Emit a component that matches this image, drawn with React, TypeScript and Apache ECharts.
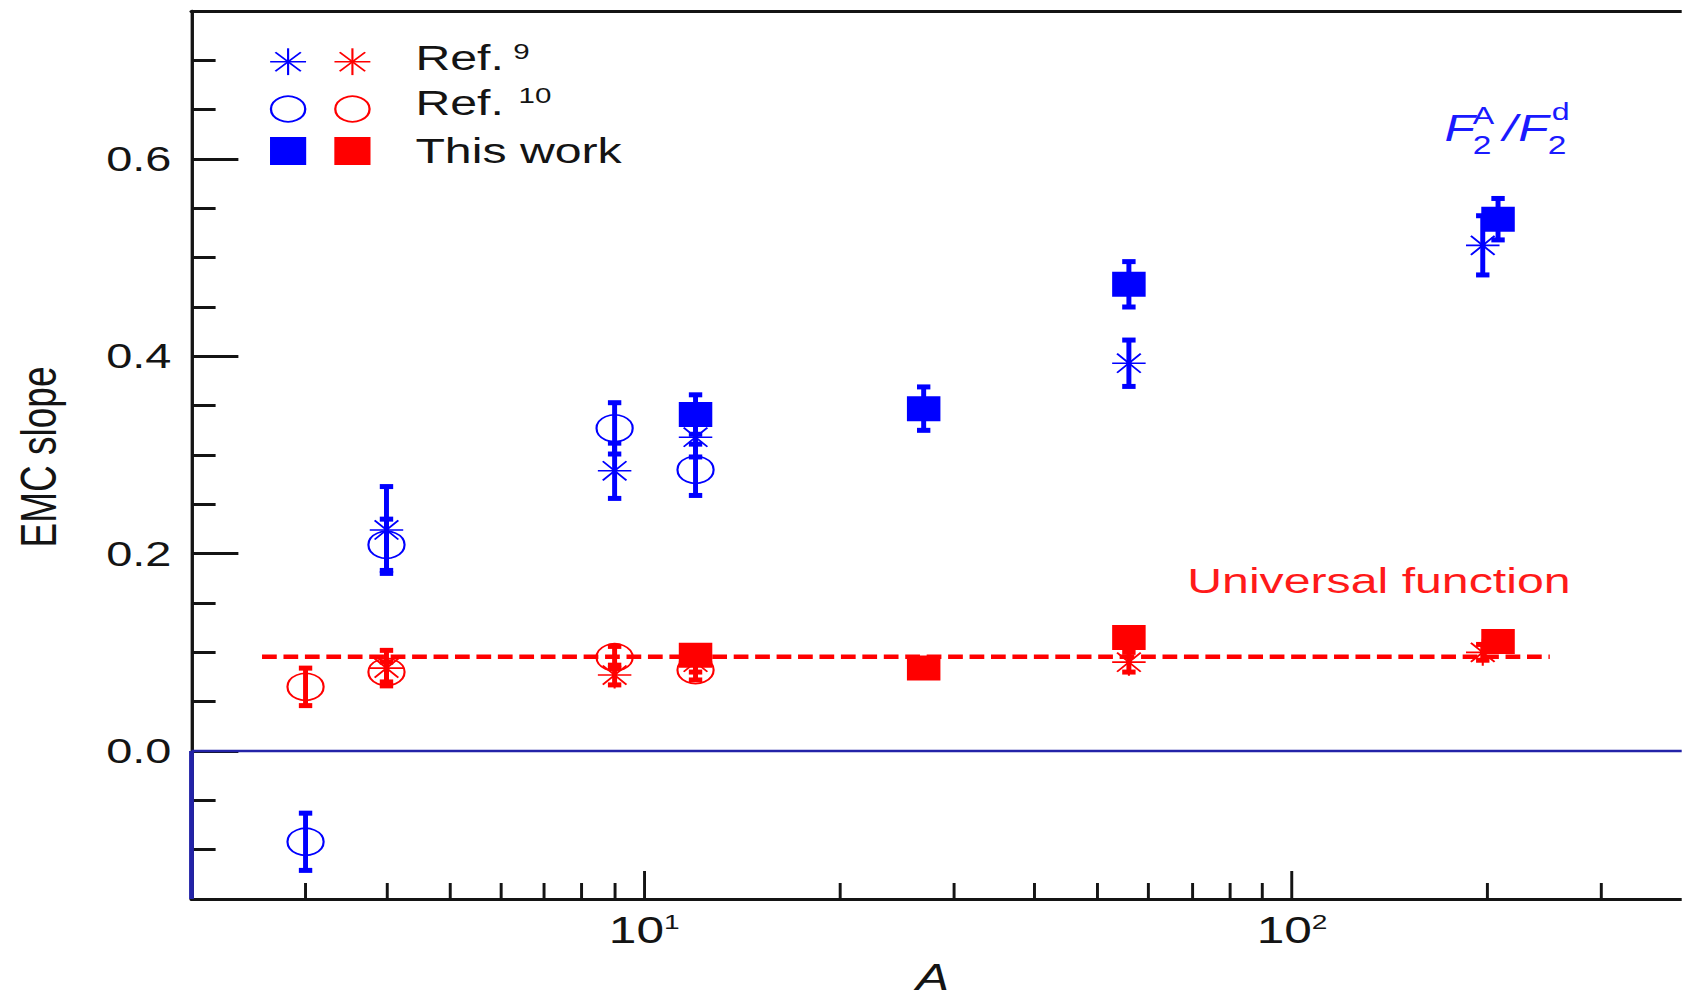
import React, { useEffect, useRef } from "react";
import * as echarts from "echarts";

// The reference picture is stretched horizontally; the chart is drawn narrower and stretched back.
const STRETCH = 1.34;
const PAGE_W = 1682;
const PAGE_H = 1001;
const CHART_W = PAGE_W / STRETCH;

const BLUE = "#0000ff";
const RED = "#ff0000";
const NAVY = "#2323a8";
const INK = "#141414";
const FONT = "'Liberation Sans', Arial, Helvetica, sans-serif";

// Data rows: [A, EMC slope, error]
const ref9Blue: number[][] = [
  [4, 0.224, 0.044],
  [9, 0.284, 0.028],
  [12, 0.318, 0.02],
  [56, 0.393, 0.0235],
  [197, 0.5125, 0.03],
];
const ref10Blue: number[][] = [
  [3, -0.092, 0.029],
  [4, 0.209, 0.026],
  [9, 0.327, 0.026],
  [12, 0.285, 0.026],
];
const thisWorkBlue: number[][] = [
  [12, 0.341, 0.02],
  [27, 0.347, 0.022],
  [56, 0.473, 0.023],
  [208, 0.539, 0.021],
];
const ref9Red: number[][] = [
  [4, 0.084, 0.018],
  [9, 0.077, 0.01],
  [12, 0.09, 0.01],
  [56, 0.09, 0.01],
  [197, 0.1, 0.008],
];
const ref10Red: number[][] = [
  [3, 0.065, 0.019],
  [4, 0.08, 0.01],
  [9, 0.095, 0.011],
  [12, 0.082, 0.01],
];
const thisWorkRed: number[][] = [
  [12, 0.097, 0.008],
  [27, 0.084, 0.008],
  [56, 0.115, 0.008],
  [208, 0.111, 0.008],
];

const universalRange = [2.57, 250];
const universalSlope = 0.0955;
const zeroLineRange = [2, 400];

const xRange = [2, 400];
const yRange = [-0.15, 0.75];
const yMinorStep = 0.05;
const yMajorTicks = [0, 0.2, 0.4, 0.6];
const xMajorTicks = [10, 100];
const xMinorTicks = [3, 4, 5, 6, 7, 8, 9, 20, 30, 40, 50, 60, 70, 80, 90, 200, 300];

const ASTERISK =
  "path://M10,0L10,20M0,10L20,10M2.93,2.93L17.07,17.07M2.93,17.07L17.07,2.93";

function errorBars(rows: number[][], color: string) {
  return {
    type: "custom",
    silent: true,
    clip: false,
    data: rows.map((r) => [r[0], r[1] - r[2], r[1] + r[2]]),
    encode: { x: 0, y: [1, 2] },
    renderItem: (params: any, api: any) => {
      const x = api.value(0);
      const lo = api.coord([x, api.value(1)]);
      const hi = api.coord([x, api.value(2)]);
      const cw = 5;
      return {
        type: "group",
        children: [
          { type: "line", shape: { x1: lo[0], y1: lo[1], x2: hi[0], y2: hi[1] }, style: { stroke: color, lineWidth: 3.7 } },
          { type: "line", shape: { x1: lo[0] - cw, y1: lo[1], x2: lo[0] + cw, y2: lo[1] }, style: { stroke: color, lineWidth: 5 } },
          { type: "line", shape: { x1: hi[0] - cw, y1: hi[1], x2: hi[0] + cw, y2: hi[1] }, style: { stroke: color, lineWidth: 5 } },
        ],
      };
    },
  };
}

function scatter(rows: number[][], kind: "asterisk" | "circle" | "square", color: string) {
  const base: any = {
    type: "scatter",
    silent: true,
    data: rows.map((r) => [r[0], r[1]]),
  };
  if (kind === "asterisk") {
    base.symbol = ASTERISK;
    base.symbolSize = [25, 27];
    base.itemStyle = { color: "transparent", borderColor: color, borderWidth: 1.6, opacity: 1 };
  } else if (kind === "circle") {
    base.symbol = "circle";
    base.symbolSize = 27;
    base.itemStyle = { color: "transparent", borderColor: color, borderWidth: 1.6, opacity: 1 };
  } else {
    base.symbol = "rect";
    base.symbolSize = 25;
    base.itemStyle = { color, opacity: 1 };
  }
  return base;
}

function legendAsterisk(cx: number, cy: number, color: string) {
  const h = 13.4;
  const d = 9.5;
  const st = { stroke: color, lineWidth: 1.6 };
  return {
    type: "group",
    silent: true,
    children: [
      { type: "line", shape: { x1: cx, y1: cy - h, x2: cx, y2: cy + h }, style: st },
      { type: "line", shape: { x1: cx - h, y1: cy, x2: cx + h, y2: cy }, style: st },
      { type: "line", shape: { x1: cx - d, y1: cy - d, x2: cx + d, y2: cy + d }, style: st },
      { type: "line", shape: { x1: cx - d, y1: cy + d, x2: cx + d, y2: cy - d }, style: st },
    ],
  };
}

function txt(text: string, x: number, y: number, size: number, color: string, extra: any = {}) {
  return {
    type: "text",
    x,
    y,
    silent: true,
    style: {
      text,
      fontSize: size,
      fontFamily: FONT,
      fill: color,
      verticalAlign: "middle",
      align: "left",
      ...extra,
    },
  };
}

const common = {
  type: "log",
  logBase: 10,
  min: xRange[0],
  max: xRange[1],
  splitLine: { show: false },
};

function buildOption(): any {
  return {
    animation: false,
    backgroundColor: "#ffffff",
    grid: { left: 142.9, right: -5.5, top: 11, bottom: 102, containLabel: false },
    xAxis: [
      {
        ...common,
        position: "bottom",
        axisLine: { show: true, onZero: false, lineStyle: { color: INK, width: 3 } },
        axisTick: { show: true, inside: true, length: 16, customValues: xMinorTicks, lineStyle: { color: INK, width: 2.2 } },
        axisLabel: { show: false },
      },
      {
        ...common,
        position: "bottom",
        axisLine: { show: false, onZero: false },
        axisTick: { show: true, inside: true, length: 28, customValues: xMajorTicks, lineStyle: { color: INK, width: 2.2 } },
        axisLabel: {
          show: true,
          customValues: xMajorTicks,
          margin: 12,
          formatter: (v: number) => {
            const e = Math.log10(v);
            if (Math.abs(e - Math.round(e)) > 1e-6) return "";
            return `{b|10}{s|${Math.round(e)}}`;
          },
          rich: {
            b: { fontSize: 37, fontFamily: FONT, color: INK },
            s: { fontSize: 21, fontFamily: FONT, color: INK, verticalAlign: "top" },
          },
        },
      },
      {
        ...common,
        position: "top",
        axisLine: { show: true, onZero: false, lineStyle: { color: INK, width: 3 } },
        axisTick: { show: false },
        axisLabel: { show: false },
      },
    ],
    yAxis: [
      {
        type: "value",
        min: yRange[0],
        max: yRange[1],
        interval: yMinorStep,
        position: "left",
        splitLine: { show: false },
        axisLine: { show: true, onZero: false, lineStyle: { color: INK, width: 2.5 } },
        axisTick: { show: true, inside: true, length: 18, lineStyle: { color: INK, width: 3 } },
        axisLabel: { show: false },
      },
      {
        type: "value",
        min: yRange[0],
        max: yRange[1],
        position: "left",
        z: 3,
        splitLine: { show: false },
        axisLine: { show: false, onZero: false },
        axisTick: { show: true, inside: true, length: 35, customValues: yMajorTicks, lineStyle: { color: INK, width: 3 } },
        axisLabel: {
          show: true,
          customValues: yMajorTicks,
          margin: 15,
          fontSize: 35,
          fontFamily: FONT,
          color: INK,
          padding: [8, 0, 0, 0],
          formatter: (v: number) => v.toFixed(1),
        },
      },
    ],
    series: [
      {
        type: "line",
        silent: true,
        symbol: "none",
        data: zeroLineRange.map((a) => [a, 0]),
        lineStyle: { color: NAVY, width: 2.5 },
      },
      {
        type: "line",
        silent: true,
        symbol: "none",
        clip: false,
        data: [
          [zeroLineRange[0], 0],
          [zeroLineRange[0], yRange[0]],
        ],
        lineStyle: { color: NAVY, width: 3.6 },
      },
      {
        type: "line",
        silent: true,
        symbol: "none",
        data: universalRange.map((a) => [a, universalSlope]),
        lineStyle: { color: RED, width: 4.5, type: [11, 5] },
      },
      scatter(ref9Blue, "asterisk", BLUE),
      scatter(ref9Red, "asterisk", RED),
      scatter(ref10Blue, "circle", BLUE),
      scatter(ref10Red, "circle", RED),
      errorBars(ref9Blue, BLUE),
      errorBars(ref10Blue, BLUE),
      errorBars(thisWorkBlue, BLUE),
      errorBars(ref9Red, RED),
      errorBars(ref10Red, RED),
      errorBars(thisWorkRed, RED),
      scatter(thisWorkBlue, "square", BLUE),
      scatter(thisWorkRed, "square", RED),
    ],
    graphic: [
      // axis titles
      {
        type: "text",
        x: 28.4,
        y: 457,
        rotation: Math.PI / 2,
        silent: true,
        style: { text: "EMC slope", fontSize: 37, fontFamily: FONT, fill: INK, align: "center", verticalAlign: "middle" },
      },
      txt("A", 696, 977, 37, INK, { align: "center", fontStyle: "italic" }),
      // legend
      legendAsterisk(215, 61.7, BLUE),
      legendAsterisk(263, 61.7, RED),
      { type: "circle", silent: true, shape: { cx: 215, cy: 109, r: 12.8 }, style: { fill: "none", stroke: BLUE, lineWidth: 1.7 } },
      { type: "circle", silent: true, shape: { cx: 263, cy: 109, r: 12.8 }, style: { fill: "none", stroke: RED, lineWidth: 1.7 } },
      { type: "rect", silent: true, shape: { x: 201.5, y: 137, width: 27, height: 28 }, style: { fill: BLUE } },
      { type: "rect", silent: true, shape: { x: 249.5, y: 137, width: 27, height: 28 }, style: { fill: RED } },
      txt("Ref.", 310, 57, 36, INK),
      txt("9", 383, 51, 22, INK),
      txt("Ref.", 310, 102, 36, INK),
      txt("10", 387, 95, 22, INK),
      txt("This work", 310, 150, 36, INK),
      // annotations
      txt("F", 1078, 128.3, 37, "#1a1aff", { fontStyle: "italic" }),
      txt("A", 1099, 116, 24, "#1a1aff"),
      txt("2", 1099, 145, 25, "#1a1aff"),
      txt("/", 1121.6, 128.3, 37, "#1a1aff", { fontStyle: "italic" }),
      txt("F", 1133, 128.3, 37, "#1a1aff", { fontStyle: "italic" }),
      txt("d", 1158, 112, 24, "#1a1aff"),
      txt("2", 1155, 145, 25, "#1a1aff"),
      txt("Universal function", 886, 580.5, 36, "#ff1a1a"),
    ],
  };
}

export default function App() {
  const ref = useRef<HTMLDivElement>(null);
  useEffect(() => {
    document.body.style.margin = "0";
    document.body.style.overflow = "hidden";
    const chart = echarts.init(ref.current as HTMLDivElement, undefined, {
      renderer: "svg",
      width: CHART_W,
      height: PAGE_H,
    });
    chart.setOption(buildOption());
    return () => chart.dispose();
  }, []);
  return (
    <div
      ref={ref}
      style={{
        width: CHART_W,
        height: PAGE_H,
        transform: `scaleX(${STRETCH})`,
        transformOrigin: "0 0",
      }}
    />
  );
}
